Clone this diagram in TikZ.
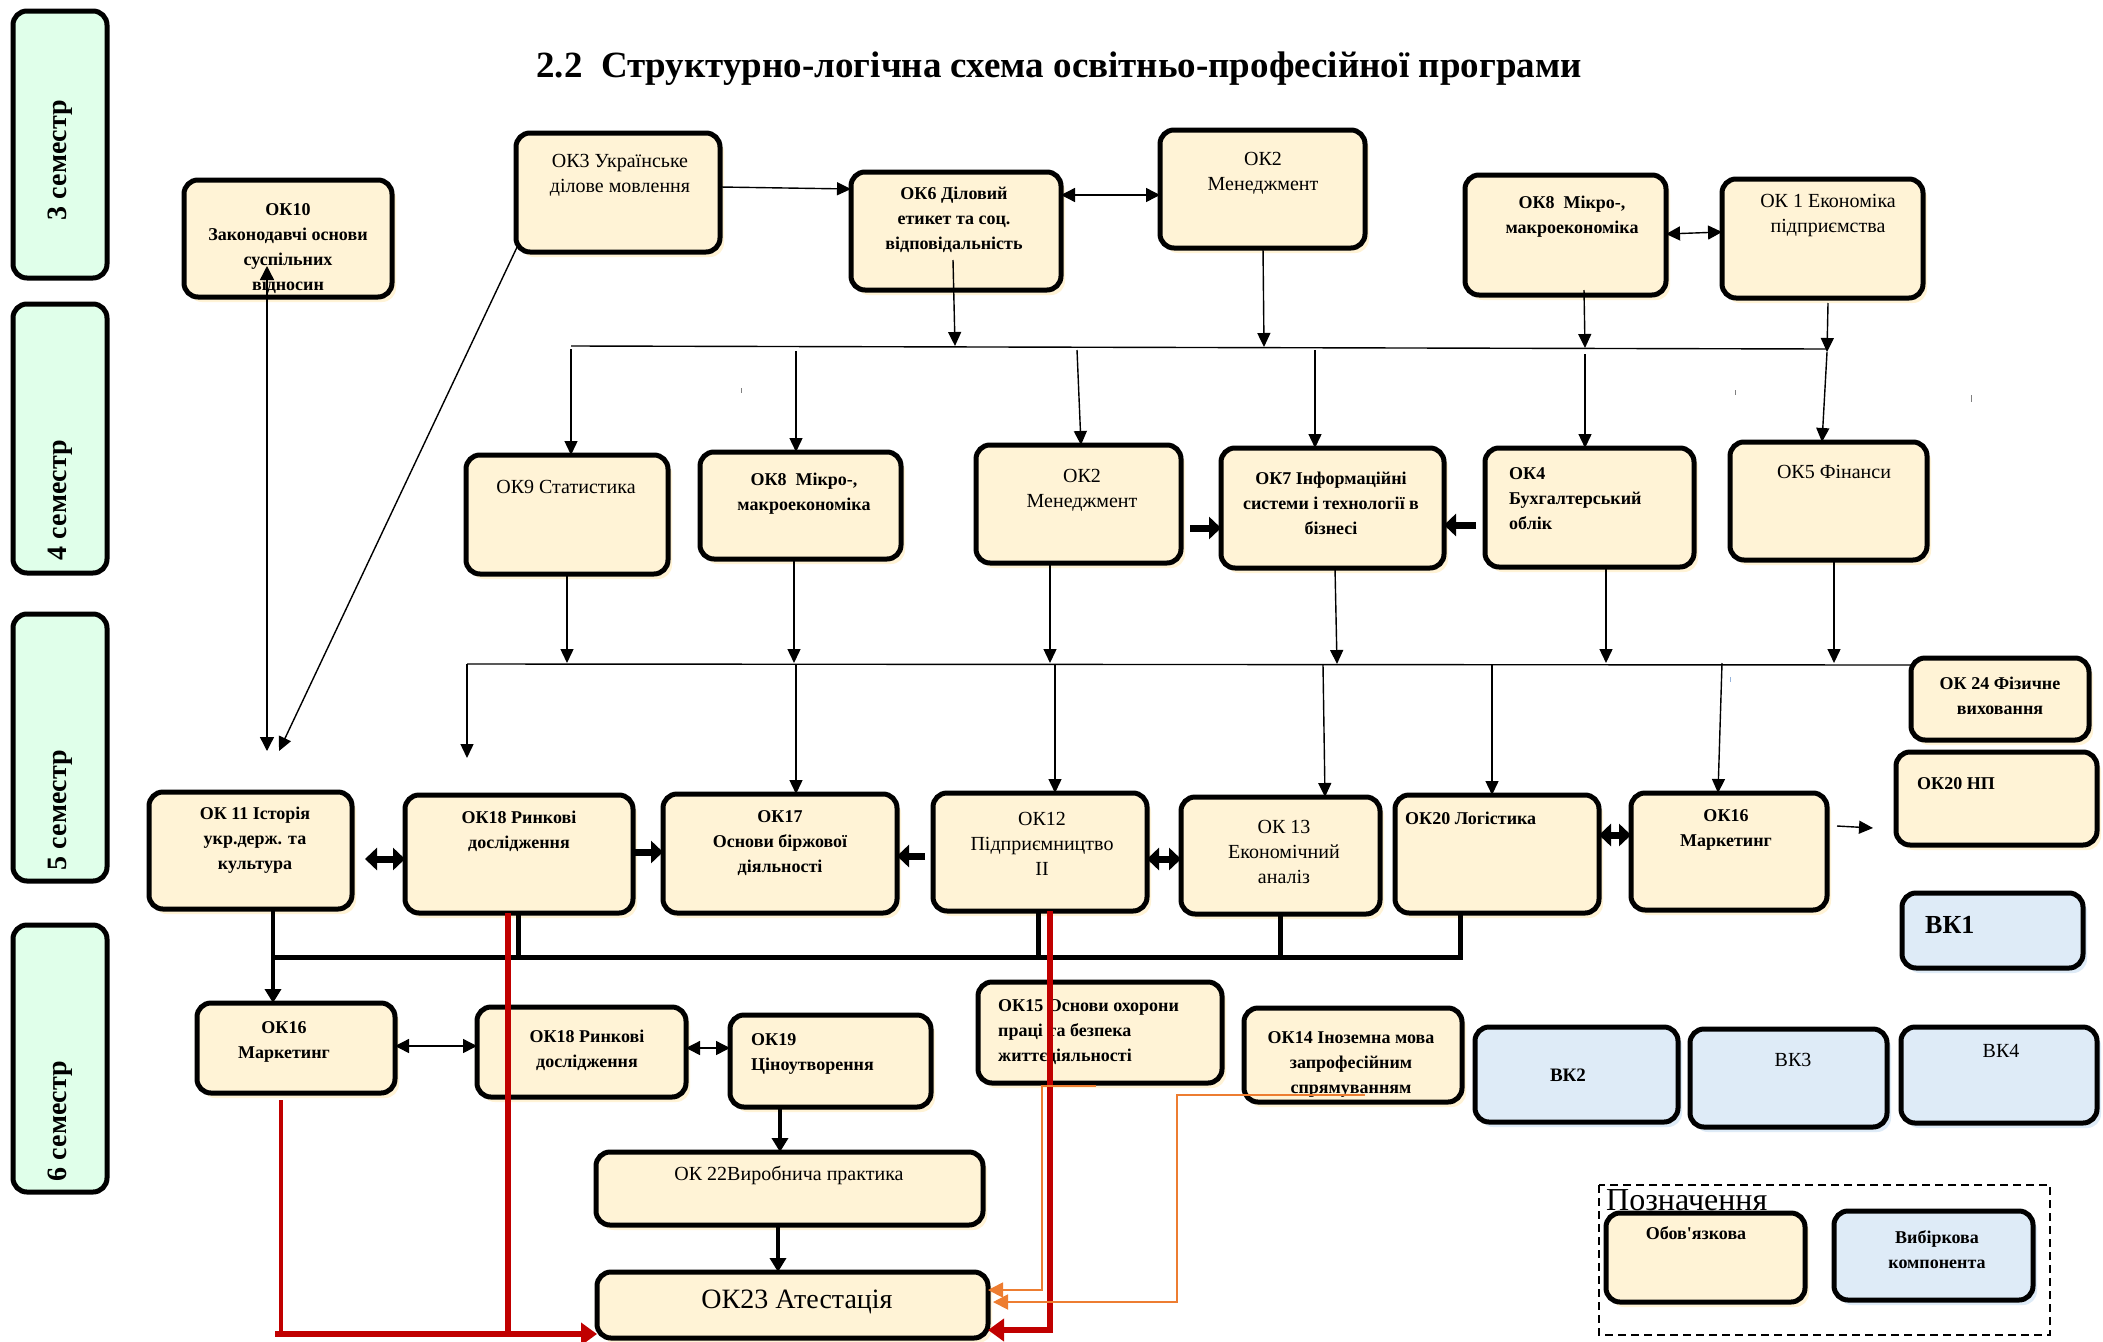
\documentclass[tikz,border=0pt]{standalone}
\usepackage{fontspec}
\setmainfont{Liberation Serif}
\newfontfamily\straightap[Ligatures=TeXOff]{Liberation Serif}
\usetikzlibrary{arrows.meta,shadows,calc}
\definecolor{cream}{RGB}{255,243,214}
\definecolor{creamsh}{RGB}{255,243,214}
\definecolor{vkblue}{RGB}{222,235,247}
\definecolor{mint}{RGB}{224,255,234}
\definecolor{redl}{RGB}{192,0,0}
\definecolor{orangel}{RGB}{237,125,49}
\newcommand\bxat[6]{\node[#2, minimum width={#5-#3}, minimum height={#6-#4}] (#1) at ({(#3+#5)/2},{(#4+#6)/2}) {};}
\begin{document}
\begin{tikzpicture}[x=1pt,y=-1pt,
  base/.style={draw=black, line width=5, rounded corners=14, inner sep=0, outer sep=0},
  okbox/.style={base, fill=cream, drop shadow={shadow xshift=4pt, shadow yshift=-5pt, fill=creamsh, opacity=1}},
  vkbox/.style={base, fill=vkblue, drop shadow={shadow xshift=4pt, shadow yshift=-5pt, fill=vkblue, opacity=1}},
  sembox/.style={base, fill=mint},
  semt/.style={rotate=90, font=\fontsize{28}{32}\selectfont\bfseries},
  tn/.style={align=center, inner sep=0, font=\fontsize{20}{25}\selectfont},
  tb/.style={align=center, inner sep=0, font=\fontsize{18}{25}\selectfont\bfseries},
  tbl/.style={align=left, anchor=west, inner sep=0, font=\fontsize{18}{25}\selectfont\bfseries},
  arr/.style={line width=1.4, -{Triangle[length=14,width=13]}},
  dar/.style={line width=1.4, {Triangle[length=14,width=14]}-{Triangle[length=14,width=14]}},
  blk/.style={line width=7, -{Triangle[length=12,width=22]}},
  dblk/.style={line width=7, {Triangle[length=12,width=22]}-{Triangle[length=12,width=22]}},
  thk/.style={line width=5},
  thka/.style={line width=3.5, -{Triangle[length=14,width=16]}},
  redt/.style={draw=redl, line width=6},
  reda/.style={draw=redl, line width=6, -{Triangle[length=16,width=22]}},
  orng/.style={draw=orangel, line width=1.8, -{Triangle[length=15,width=15]}},
  tick/.style={draw=gray, line width=1}
]
\useasboundingbox (0,0) rectangle (2103,1341);
\fill[white] (0,0) rectangle (2103,1341);

% semester bars
\bxat{s3}{sembox}{13}{11}{107}{278}
\bxat{s4}{sembox}{13}{304}{107}{573}
\bxat{s5}{sembox}{13}{614}{107}{881}
\bxat{s6}{sembox}{13}{925}{107}{1192}
\node[semt] (s3t) at (60,160) {3 семестр};
\node[semt] (s4t) at (60,500) {4 семестр};
\node[semt] (s5t) at (60,810) {5 семестр};
\node[semt] (s6t) at (60,1121) {6 семестр};

% title
\node[anchor=base, inner sep=0, font=\fontsize{37}{40}\selectfont\bfseries] (title) at (1059,77) {2.2\ \ Структурно-логічна схема освітньо-професійної програми};

% row 1
\bxat{ok10}{okbox}{184}{180}{392}{297}
\bxat{ok3}{okbox}{516}{133}{720}{252}
\bxat{ok6}{okbox}{851}{172}{1061}{290}
\bxat{ok2a}{okbox}{1160}{130}{1365}{248}
\bxat{ok8a}{okbox}{1465}{175}{1666}{295}
\bxat{ok1}{okbox}{1722}{179}{1923}{298}
% row 2
\bxat{ok9}{okbox}{466}{455}{668}{574}
\bxat{ok8b}{okbox}{700}{452}{901}{559}
\bxat{ok2b}{okbox}{976}{445}{1181}{563}
\bxat{ok7}{okbox}{1221}{448}{1444}{568}
\bxat{ok4}{okbox}{1485}{448}{1694}{567}
\bxat{ok5}{okbox}{1730}{442}{1927}{560}
% row 3
\bxat{ok11}{okbox}{149}{792}{352}{909}
\bxat{ok18a}{okbox}{405}{795}{633}{913}
\bxat{ok17}{okbox}{663}{794}{897}{913}
\bxat{ok12}{okbox}{933}{793}{1147}{911}
\bxat{ok13}{okbox}{1181}{797}{1380}{914}
\bxat{ok20}{okbox}{1395}{795}{1599}{913}
\bxat{ok16a}{okbox}{1631}{793}{1827}{910}
\bxat{ok24}{okbox}{1911}{658}{2089}{740}
\bxat{ok20np}{okbox}{1896}{752}{2097}{845}
\bxat{vk1}{vkbox}{1902}{893}{2083}{968}
% row 4
\bxat{ok16b}{okbox}{197}{1003}{395}{1093}
\bxat{ok18b}{okbox}{477}{1007}{686}{1097}
\bxat{ok19}{okbox}{730}{1015}{931}{1107}
\bxat{ok15}{okbox}{978}{982}{1222}{1083}
\bxat{ok14}{okbox}{1244}{1008}{1462}{1102}
\bxat{vk2}{vkbox}{1475}{1027}{1678}{1122}
\bxat{vk3}{vkbox}{1690}{1029}{1887}{1127}
\bxat{vk4}{vkbox}{1901}{1027}{2097}{1123}
\bxat{ok22}{okbox}{596}{1152}{983}{1225}
\bxat{ok23}{okbox}{597}{1272}{988}{1338}
% legend
\draw[line width=2.5, dash pattern=on 8 off 5] (1599,1185) rectangle (2050,1335);
\node[anchor=base west, inner sep=0, font=\fontsize{32}{36}\selectfont] (legt) at (1606,1210) {Позначення};
\bxat{lg1}{okbox}{1606}{1213}{1805}{1302}
\bxat{lg2}{vkbox}{1834}{1211}{2033}{1300}

% texts
\node[tb] (ok10t) at (288,249) {ОК10\\Законодавчі основи\\суспільних\\відносин};
\node[tn] (ok3t) at (620,175) {ОК3 Українське\\ділове мовлення};
\node[tb] (ok6t) at (954,220) {ОК6 Діловий\\етикет та соц.\\відповідальність};
\node[tn] (ok2at) at (1263,173) {ОК2\\Менеджмент};
\node[tb] (ok8at) at (1572,217) {ОК8\ \ Мікро-,\\макроекономіка};
\node[tn] (ok1t) at (1828,216) {ОК 1 Економіка\\підприємства};

\node[tn] (ok9t) at (566,487) {ОК9 Статистика};
\node[tb] (ok8bt) at (804,494) {ОК8\ \ Мікро-,\\макроекономіка};
\node[tn] (ok2bt) at (1082,490) {ОК2\\Менеджмент};
\node[tb] (ok7t) at (1331,503) {ОК7 Інформаційні\\системи і технології в\\бізнесі};
\node[tbl] (ok4t) at (1509,499) {ОК4\\Бухгалтерський\\облік};
\node[tn] (ok5t) at (1834,472) {ОК5 Фінанси};

\node[tb] (ok11t) at (255,840) {ОК 11 Історія\\укр.держ. та\\культура};
\node[tb] (ok18at) at (519,831) {ОК18 Ринкові\\дослідження};
\node[tb] (ok17t) at (780,843) {ОК17\\Основи біржової\\діяльності};
\node[tn] (ok12t) at (1042,844) {ОК12\\Підприємництво\\ІІ};
\node[tn] (ok13t) at (1284,852) {ОК 13\\Економічний\\аналіз};
\node[tbl] (ok20t) at (1405,818) {ОК20 Логістика};
\node[tb] (ok16at) at (1726,830) {ОК16\\Маркетинг};
\node[tb] (ok24t) at (2000,696) {ОК 24 Фізичне\\виховання};
\node[tbl] (ok20npt) at (1917,784) {ОК20 НП};
\node[anchor=west, inner sep=0, font=\fontsize{26}{30}\selectfont\bfseries] (vk1t) at (1925,925) {ВК1};

\node[tb] (ok16bt) at (284,1042) {ОК16\\Маркетинг};
\node[tb] (ok18bt) at (587,1050) {ОК18 Ринкові\\дослідження};
\node[tbl] (ok19t) at (751,1054) {ОК19\\Ціноутворення};
\node[tbl] (ok15t) at (998,1032) {ОК15 Основи охорони\\праці та безпека\\життєдіяльності};
\node[tb] (ok14t) at (1351,1064) {ОК14 Іноземна мова\\запрофесійним\\спрямуванням};
\node[tb, font=\fontsize{19}{25}\selectfont\bfseries] (vk2t) at (1568,1075) {ВК2};
\node[tn] (vk3t) at (1793,1060) {ВК3};
\node[tn] (vk4t) at (2001,1051) {ВК4};
\node[tn] (ok22t) at (789,1175) {ОК 22Виробнича практика};
\node[tn, font=\fontsize{28}{32}\selectfont] (ok23t) at (797,1302) {ОК23 Атестація};
\node[tb] (lg1t) at (1696,1233) {Обов{\straightap\bfseries '}язкова};
\node[tb] (lg2t) at (1937,1250) {Вибіркова\\компонента};

% row 1 connectors
\draw[arr] (ok3.east |- 0,187) -- (ok6.west |- 0,189);
\draw[dar] (ok6.east |- 0,195) -- (ok2a.west |- 0,195);
\draw[dar] (ok8a.east |- 0,234) -- (ok1.west |- 0,232);
\coordinate (bus1a) at (571,346);
\coordinate (bus1b) at (1827,349);
\draw[line width=1.4] (bus1a) -- (bus1b);
\draw[arr] (953,260) -- (955,346);
\draw[arr] (1263,248) -- (1264,347);
\draw[arr] (1584,290) -- (1585,348);
\draw[arr] (1828,303) -- (1827,352);
\draw[arr] (1827,352) -- (1822,0 |- ok5.north);
\draw[arr] (571,349) -- (571,0 |- ok9.north);
\draw[arr] (796,351) -- (796,0 |- ok8b.north);
\draw[arr] (1077,350) -- (1081,0 |- ok2b.north);
\draw[arr] (1315,350) -- (1315,0 |- ok7.north);
\draw[arr] (1585,354) -- (1585,0 |- ok4.north);
\draw[tick] (741,388) -- (741,393);
\draw[tick] (1735,390) -- (1735,395);
\draw[tick] (1971,395) -- (1971,402);
% row 2 block arrows
\draw[blk] (1190,528) -- (ok7.west |- 0,528);
\draw[blk] (1476,525) -- (ok7.east |- 0,525);
% bus 2
\coordinate (bus2a) at (467,664);
\draw[line width=1.4] (bus2a) -- (ok24.west |- 0,665);
\draw[arr] (567,0 |- ok9.south) -- (567,663);
\draw[arr] (794,0 |- ok8b.south) -- (794,663);
\draw[arr] (1050,0 |- ok2b.south) -- (1050,663);
\draw[arr] (1335,0 |- ok7.south) -- (1337,664);
\draw[arr] (1606,0 |- ok4.south) -- (1606,663);
\draw[arr] (1834,0 |- ok5.south) -- (1834,663);
\draw[arr] (bus2a) -- (467,758);
\draw[arr] (796,665) -- (796,0 |- ok17.north);
\draw[arr] (1055,665) -- (1055,0 |- ok12.north);
\draw[arr] (1323,665) -- (1325,0 |- ok13.north);
\draw[arr] (1492,665) -- (1492,0 |- ok20.north);
\draw[arr] (1722,663) -- (1718,0 |- ok16a.north);
\draw[draw={rgb,255:red,150;green,180;blue,220}, line width=1] (1730,677) -- (1730,682);
% long left lines
\draw[dar] (267,266) -- (267,751);
\draw[arr] (519,243) -- (279,751);
% row 3 block arrows
\draw[dblk] (365,859) -- (ok18a.west |- 0,859);
\draw[blk] (ok18a.east |- 0,852) -- (ok17.west |- 0,852);
\draw[blk] (925,856) -- (ok17.east |- 0,856);
\draw[dblk] (ok12.east |- 0,859) -- (ok13.west |- 0,859);
\draw[dblk] (ok20.east |- 0,835) -- (ok16a.west |- 0,835);
\draw[arr] (1837,826) -- (1873,828);
% thick bottom bus
\draw[thk] (273,957) -- (1460,957);
\draw[thka] (273,0 |- ok11.south) -- (273,0 |- ok16b.north);
\draw[thk] (518,0 |- ok18a.south) -- (518,957);
\draw[thk] (1038,0 |- ok12.south) -- (1038,957);
\draw[thk] (1280,0 |- ok13.south) -- (1280,957);
\draw[thk] (1460,0 |- ok20.south) -- (1460,959.5);
% row 4
\draw[dar] (ok16b.east |- 0,1046) -- (ok18b.west |- 0,1046);
\draw[dar] (ok18b.east |- 0,1048) -- (ok19.west |- 0,1048);
\draw[thka] (780,0 |- ok19.south) -- (780,0 |- ok22.north);
\draw[thka] (778,0 |- ok22.south) -- (778,0 |- ok23.north);
% red lines
\draw[redt] (508,0 |- ok18a.south) -- (508,1337);
\draw[draw=redl, line width=3.5] (281,1100) -- (281,1334);
\draw[reda] (275,1334) -- (ok23.west |- 0,1334);
\draw[redt] (1050,0 |- ok12.south) -- (1050,1333);
\draw[reda] (1053,1330) -- (ok23.east |- 0,1330);
% orange lines
\draw[orng] (1096,1086) -- (1042,1086) -- (1042,1290) -- (ok23.east |- 0,1290);
\draw[orng] (1365,1095) -- (1177,1095) -- (1177,1302) -- ([xshift=5]ok23.east |- 0,1302);
\end{tikzpicture}
\end{document}
